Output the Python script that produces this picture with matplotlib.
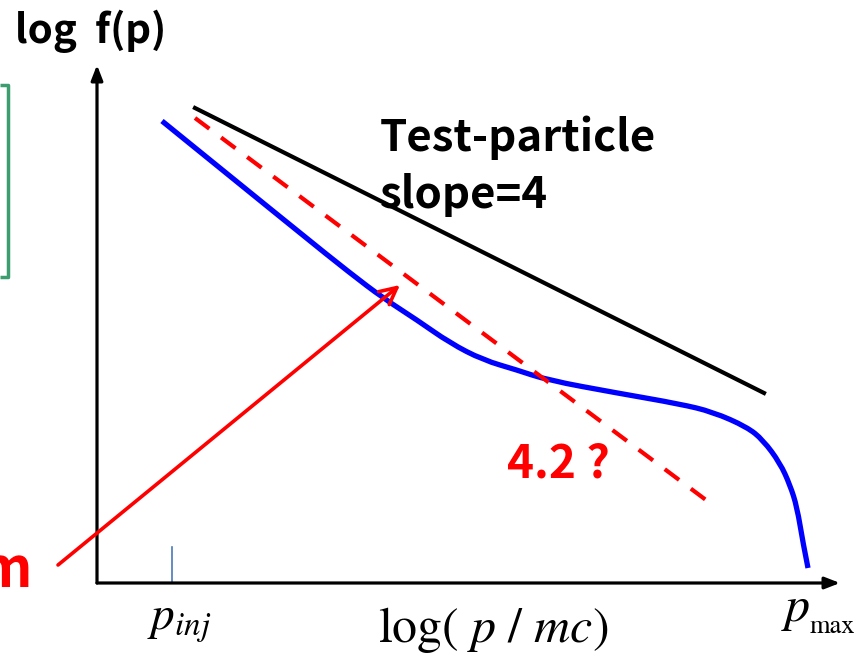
import matplotlib.pyplot as plt
from matplotlib.path import Path
from matplotlib.patches import PathPatch

plt.rcParams['mathtext.fontset'] = 'stix'

W, H = 866, 657

# schematic coordinates (pixels of the sketch, y grows downwards)
origin = (97, 583)
y_tip = (97, 65)
x_tip = (840, 583)

# spectrum with CR feedback (control points)
blue_x = [162, 300, 350, 383, 417, 450, 483, 517, 547, 617, 680, 713, 747, 763, 780, 790, 797, 803, 808]
blue_y = [121, 233, 273, 298, 320, 343, 360, 370, 380, 393, 404, 412, 427, 440, 463, 485, 507, 543, 568]

# test-particle slope 4
black_x = [195, 764]
black_y = [108, 393]

# steeper slope 4.2 ?
red_x = [195, 706]
red_y = [118, 500]

# arrow from the cut-off label
arrow_from = (58, 565)
arrow_to = (400, 285)

# p_inj tick
tick_x = [172, 172]
tick_y = [547, 583]

# green box (cut at the left edge)
box_x = [0, 8, 8, 0]
box_y = [85, 85, 277, 277]


def smooth_path(xs, ys):
    # quadratic spline through the midpoints of the control polygon
    pts = list(zip(xs, ys))
    verts = [pts[0]]
    codes = [Path.MOVETO]
    for i in range(1, len(pts) - 1):
        mid = ((pts[i][0] + pts[i + 1][0]) / 2, (pts[i][1] + pts[i + 1][1]) / 2)
        if i == len(pts) - 2:
            mid = pts[-1]
        verts += [pts[i], mid]
        codes += [Path.CURVE3, Path.CURVE3]
    return Path(verts, codes)


fig = plt.figure(figsize=(W / 100, H / 100), dpi=100)
ax = fig.add_axes([0, 0, 1, 1])
ax.set_xlim(0, W)
ax.set_ylim(H, 0)
ax.axis('off')

# axes arrows
for tip in (y_tip, x_tip):
    ax.annotate('', xy=tip, xytext=origin,
                arrowprops=dict(arrowstyle='-|>,head_length=0.9,head_width=0.35',
                                color='black', lw=2.3, shrinkA=0, shrinkB=0))

ax.plot(box_x, box_y, color='#3c9d6e', lw=2.5, solid_capstyle='butt')
ax.plot(tick_x, tick_y, color='#4a78b8', lw=1.2)

ax.plot(black_x, black_y, color='black', lw=3.0)
ax.plot(red_x, red_y, color='#ff0000', lw=3.0, linestyle=(0, (4.3, 3.52)))
ax.add_patch(PathPatch(smooth_path(blue_x, blue_y), facecolor='none',
                       edgecolor='#0000ff', lw=3.8, capstyle='butt'))

ax.annotate('', xy=arrow_to, xytext=arrow_from,
            arrowprops=dict(arrowstyle='->,head_length=1.2,head_width=0.6',
                            color='#ff0000', lw=2.6, shrinkA=0, shrinkB=0))

bold = dict(family=['Noto Sans CJK KR', 'DejaVu Sans'], fontweight='bold', va='baseline')
ax.text(15, 43, 'log  f(p)', fontsize=29, ha='left', color='black', **bold)
ax.text(380, 151, 'Test-particle', fontsize=31.5, ha='left', color='black', **bold)
ax.text(380, 208, 'slope=4', fontsize=31.5, ha='left', color='black', **bold)
ax.text(507, 477, '4.2 ?', fontsize=33, ha='left', color='#ff0000', **bold)
ax.text(32, 587, 'm', fontsize=40, ha='right', color='#ff0000', **bold)

ax.text(147, 630, r'$p_{inj}$', fontsize=34, ha='left', va='baseline')
ax.text(378, 642, r'$\mathrm{log(}\ p\ /\ mc\mathrm{)}$', fontsize=36, ha='left', va='baseline')
ax.text(781, 621, r'$p$', fontsize=36, ha='left', va='baseline')
ax.text(810, 633, 'max', fontsize=19, ha='left', va='baseline', family='STIXGeneral')

fig.savefig('out.png', dpi=100)
